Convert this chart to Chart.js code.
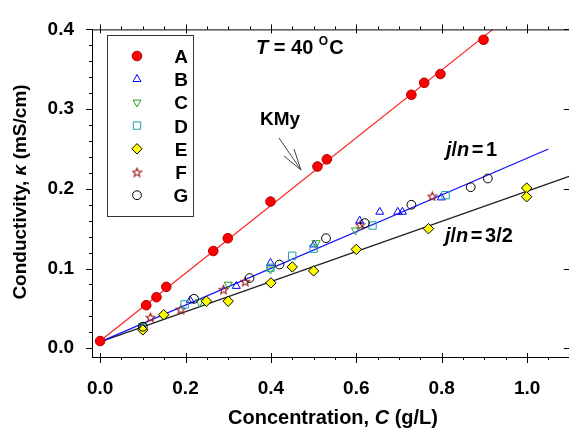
<!DOCTYPE html>
<html>
<head>
<meta charset="utf-8">
<script src="https://cdn.jsdelivr.net/npm/chart.js@4.4.1/dist/chart.umd.min.js"></script>
<style>
  html, body { margin: 0; padding: 0; background: #fff; overflow: hidden; }
  #wrap { width: 576px; height: 432px; }
</style>
</head>
<body>
<div id="wrap"><canvas id="chart" width="576" height="432"></canvas></div>
<script>
// series values (x: concentration g/L, y: conductivity mS/cm)
const seriesNames = ['A', 'B', 'C', 'D', 'E', 'F', 'G'];

const aX = [0, 0.108, 0.132, 0.155, 0.265, 0.299, 0.399, 0.509, 0.531, 0.729, 0.759, 0.797, 0.898];
const aY = [0.009, 0.054, 0.064, 0.077, 0.122, 0.138, 0.184, 0.228, 0.237, 0.318, 0.333, 0.344, 0.387];

const bX = [0.099, 0.211, 0.319, 0.399, 0.501, 0.608, 0.655, 0.697, 0.708, 0.799];
const bY = [0.027, 0.060, 0.078, 0.107, 0.130, 0.160, 0.171, 0.171, 0.171, 0.189];

const cX = [0.099, 0.233, 0.300, 0.399, 0.506, 0.598];
const cY = [0.028, 0.058, 0.080, 0.099, 0.132, 0.148];

const dX = [0.198, 0.399, 0.450, 0.500, 0.638, 0.809];
const dY = [0.055, 0.101, 0.116, 0.125, 0.154, 0.192];

const eX = [0.100, 0.149, 0.249, 0.300, 0.400, 0.450, 0.500, 0.600, 0.769, 0.999, 0.999];
const eY = [0.023, 0.042, 0.059, 0.059, 0.082, 0.102, 0.097, 0.124, 0.150, 0.201, 0.190];

const fX = [0.118, 0.189, 0.289, 0.340, 0.609, 0.778];
const fY = [0.039, 0.049, 0.074, 0.084, 0.155, 0.191];

const gX = [0.100, 0.220, 0.350, 0.420, 0.529, 0.620, 0.729, 0.868, 0.908];
const gY = [0.027, 0.062, 0.088, 0.105, 0.138, 0.157, 0.180, 0.202, 0.213];

// fitted lines (KMy, j/n = 1, j/n = 3/2)
const lineKMyX = [0, 0.92];
const lineKMyY = [0.009, 0.400];
const lineOneX = [0, 1.05];
const lineOneY = [0.008, 0.250];
const lineThreeHalfX = [0, 1.1];
const lineThreeHalfY = [0.008, 0.216];

const xTicks = [0, 0.2, 0.4, 0.6, 0.8, 1.0];
const yTicks = [0, 0.1, 0.2, 0.3, 0.4];

const FONT = "'Liberation Sans', Arial, sans-serif";

function pts(xs, ys) {
    return xs.map((x, i) => ({ x: x, y: ys[i] }));
}

function makeStar(size, color) {
    const c = document.createElement('canvas');
    c.width = size;
    c.height = size;
    const g = c.getContext('2d');
    const cx = size / 2, cy = size / 2 + 0.6, R = size / 2 - 1, r = R * 0.45;
    g.beginPath();
    for (let i = 0; i < 10; i++) {
        const ang = -Math.PI / 2 + i * Math.PI / 5;
        const rr = i % 2 ? r : R;
        g.lineTo(cx + rr * Math.cos(ang), cy + rr * Math.sin(ang));
    }
    g.closePath();
    g.strokeStyle = color;
    g.lineWidth = 1.1;
    g.stroke();
    return c;
}

const starImg = makeStar(11, '#a01818');

const styles = [
    { pointStyle: 'circle', radius: 4.8, bg: '#ff0000', border: '#b00000', rotation: 0 },
    { pointStyle: 'triangle', radius: 4.6, bg: 'rgba(0,0,0,0)', border: '#0000ff', rotation: 0 },
    { pointStyle: 'triangle', radius: 4.6, bg: 'rgba(0,0,0,0)', border: '#22a022', rotation: 180 },
    { pointStyle: 'rect', radius: 5.2, bg: 'rgba(0,0,0,0)', border: '#20a0a8', rotation: 0 },
    { pointStyle: 'rectRot', radius: 5.2, bg: '#ffff00', border: '#000000', rotation: 0 },
    { pointStyle: starImg, radius: 5, bg: 'rgba(0,0,0,0)', border: '#a01818', rotation: 0 },
    { pointStyle: 'circle', radius: 4.4, bg: 'rgba(0,0,0,0)', border: '#000000', rotation: 0 }
];

const seriesData = [pts(aX, aY), pts(bX, bY), pts(cX, cY), pts(dX, dY), pts(eX, eY), pts(fX, fY), pts(gX, gY)];
// drawing order: A on top
const drawOrder = [1, 6, 5, 4, 3, 7, 2];

const datasets = seriesNames.map((name, i) => ({
    label: name,
    data: seriesData[i],
    pointStyle: styles[i].pointStyle,
    pointRadius: styles[i].radius,
    pointRotation: styles[i].rotation,
    pointBackgroundColor: styles[i].bg,
    pointBorderColor: styles[i].border,
    pointBorderWidth: 1,
    showLine: false,
    order: drawOrder[i]
}));

function lineSet(label, xs, ys, color) {
    return {
        label: label,
        data: pts(xs, ys),
        showLine: true,
        borderColor: color,
        borderWidth: 1.2,
        pointRadius: 0,
        fill: false,
        order: 20
    };
}

datasets.push(lineSet('KMy', lineKMyX, lineKMyY, '#ff2020'));
datasets.push(lineSet('j/n=1', lineOneX, lineOneY, '#1010ff'));
datasets.push(lineSet('j/n=3/2', lineThreeHalfX, lineThreeHalfY, '#202020'));

function runsWidth(ctx, runs) {
    let w = 0;
    runs.forEach(r => {
        ctx.font = r.font;
        w += ctx.measureText(r.text).width + (r.gap || 0) * 2;
    });
    return w;
}

function drawRuns(ctx, runs, x, y, align) {
    const w = runsWidth(ctx, runs);
    let cx = align === 'center' ? x - w / 2 : x;
    ctx.textAlign = 'left';
    runs.forEach(r => {
        ctx.font = r.font;
        cx += r.gap || 0;
        ctx.fillText(r.text, cx, y + (r.dy || 0));
        cx += ctx.measureText(r.text).width + (r.gap || 0);
    });
}

const B = (s) => 'bold ' + s + 'px ' + FONT;
const BI = (s) => 'italic bold ' + s + 'px ' + FONT;

const decor = {
    id: 'decor',
    afterDatasetsDraw(chart) {
        const ctx = chart.ctx;
        const ca = chart.chartArea;
        const xs = chart.scales.x;
        const ys = chart.scales.y;
        ctx.save();
        ctx.strokeStyle = '#000';
        ctx.lineWidth = 1;

        // top axis line
        ctx.beginPath();
        ctx.moveTo(ca.left, ca.top + 0.5);
        ctx.lineTo(ca.right, ca.top + 0.5);
        ctx.stroke();

        // x ticks (major every 0.2, minor every 0.05)
        for (let k = 0; k <= 22; k++) {
            const v = k * 0.05;
            const px = Math.round(xs.getPixelForValue(v)) + 0.5;
            const major = k % 4 === 0;
            ctx.beginPath();
            if (major) {
                ctx.moveTo(px, ca.bottom - 4); ctx.lineTo(px, ca.bottom + 6);
                ctx.moveTo(px, ca.top - 5); ctx.lineTo(px, ca.top + 4);
            } else {
                ctx.moveTo(px, ca.bottom); ctx.lineTo(px, ca.bottom + 3);
                ctx.moveTo(px, ca.top - 3); ctx.lineTo(px, ca.top);
            }
            ctx.stroke();
        }
        // y ticks (major every 0.1, minor every 0.02)
        for (let k = 0; k <= 20; k++) {
            const v = k * 0.02;
            const py = Math.round(ys.getPixelForValue(v)) + 0.5;
            const major = k % 5 === 0;
            ctx.beginPath();
            ctx.moveTo(ca.left - (major ? 6 : 3), py);
            ctx.lineTo(ca.left, py);
            if (major) {
                ctx.moveTo(ca.right - 6, py);
                ctx.lineTo(ca.right, py);
            }
            ctx.stroke();
        }

        ctx.fillStyle = '#000';
        ctx.textBaseline = 'alphabetic';

        // legend box
        const lx = ca.left + 15, ly = 35, lw = 86, lh = 181;
        ctx.strokeStyle = '#333';
        ctx.strokeRect(lx + 0.5, ly + 0.5, lw, lh);
        seriesNames.forEach((name, i) => {
            const ry = 56 + i * 23.2;
            const st = styles[i];
            ctx.save();
            ctx.fillStyle = st.bg;
            ctx.strokeStyle = st.border;
            ctx.lineWidth = 1;
            Chart.helpers.drawPoint(ctx, {
                pointStyle: st.pointStyle,
                rotation: st.rotation,
                radius: st.radius,
                borderWidth: 1
            }, lx + 30, ry);
            ctx.restore();
            ctx.fillStyle = '#000';
            ctx.font = B(19);
            ctx.textAlign = 'center';
            ctx.fillText(name, lx + 74, ry + 7);
        });

        // temperature label
        drawRuns(ctx, [
            { text: 'T', font: BI(20) },
            { text: ' = 40 ', font: B(20) },
            { text: 'O', font: B(12), dy: -9 },
            { text: 'C', font: B(20), gap: 1 }
        ], 256, 54, 'left');

        // KMy label and arrow
        ctx.font = B(19);
        ctx.textAlign = 'left';
        ctx.fillText('KMy', 260, 125);
        ctx.strokeStyle = '#444';
        ctx.lineWidth = 1;
        const tx = 301, ty = 170, sx = 279, sy = 138;
        const ang = Math.atan2(ty - sy, tx - sx);
        ctx.beginPath();
        ctx.moveTo(sx, sy); ctx.lineTo(tx, ty);
        [-0.28, 0.28].forEach(d => {
            ctx.moveTo(tx, ty);
            ctx.lineTo(tx - 22 * Math.cos(ang + d), ty - 22 * Math.sin(ang + d));
        });
        ctx.stroke();

        // j/n labels
        ctx.fillStyle = '#000';
        drawRuns(ctx, [
            { text: 'j', font: BI(20) },
            { text: '/', font: B(20) },
            { text: 'n', font: BI(20) },
            { text: '=', font: B(20), gap: 2.5 },
            { text: '1', font: B(20) }
        ], 446, 156, 'left');
        drawRuns(ctx, [
            { text: 'j', font: BI(20) },
            { text: '/', font: B(20) },
            { text: 'n', font: BI(20) },
            { text: '=', font: B(20), gap: 2.5 },
            { text: '3/2', font: B(20) }
        ], 445, 242, 'left');

        // axis titles
        drawRuns(ctx, [
            { text: 'Concentration, ', font: B(20) },
            { text: 'C', font: BI(20) },
            { text: ' (g/L)', font: B(20) }
        ], 333, 424, 'center');

        ctx.save();
        ctx.translate(26, 192);
        ctx.rotate(-Math.PI / 2);
        drawRuns(ctx, [
            { text: 'Conductivity, ', font: B(19) },
            { text: '\u03BA', font: BI(19) },
            { text: ' (mS/cm)', font: B(19) }
        ], 0, 0, 'center');
        ctx.restore();

        ctx.restore();
    }
};

new Chart(document.getElementById('chart').getContext('2d'), {
    type: 'scatter',
    data: { datasets: datasets },
    options: {
        responsive: false,
        animation: false,
        devicePixelRatio: 1,
        layout: { padding: { top: 22, right: 2, left: 0, bottom: 0 } },
        plugins: {
            legend: { display: false },
            tooltip: { enabled: false }
        },
        scales: {
            x: {
                type: 'linear',
                min: -0.019,
                max: 1.1,
                afterFit: (s) => { s.height = 75; },
                afterBuildTicks: (s) => { s.ticks = xTicks.map(v => ({ value: v })); },
                ticks: {
                    color: '#000',
                    padding: 20,
                    maxRotation: 0,
                    font: { family: FONT, size: 19, weight: 'bold' },
                    callback: (v) => Number(v).toFixed(1)
                },
                grid: { display: true, drawOnChartArea: false, drawTicks: false },
                border: { display: true, color: '#000', width: 1 }
            },
            y: {
                type: 'linear',
                min: -0.011,
                max: 0.4,
                afterFit: (s) => { s.width = 92; },
                afterBuildTicks: (s) => { s.ticks = yTicks.map(v => ({ value: v })); },
                ticks: {
                    color: '#000',
                    padding: 18,
                    font: { family: FONT, size: 19, weight: 'bold' },
                    callback: (v) => Number(v).toFixed(1)
                },
                grid: { display: true, drawOnChartArea: false, drawTicks: false },
                border: { display: true, color: '#000', width: 1 }
            }
        }
    },
    plugins: [decor]
});
</script>
</body>
</html>
